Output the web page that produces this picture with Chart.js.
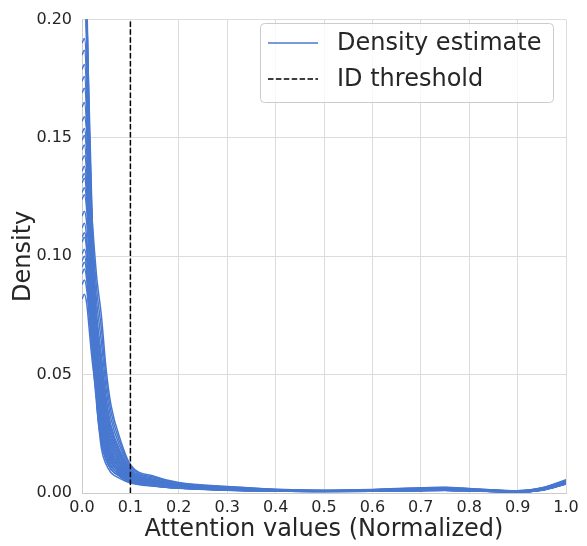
<!DOCTYPE html>
<html>
<head>
<meta charset="utf-8">
<title>Attention density</title>
<script src="https://cdn.jsdelivr.net/npm/chart.js@4/dist/chart.umd.min.js"></script>
<style>
    html, body { margin: 0; padding: 0; background: #ffffff; }
    #wrap { position: relative; width: 587px; height: 546px; }
</style>
</head>
<body>
<div id="wrap"><canvas id="densityChart"></canvas></div>
<script>
// =============================================
// Data
// =============================================

// x positions of the sampled density values
var attentionGrid = [0, 0.005, 0.01, 0.015, 0.02, 0.03, 0.04, 0.05, 0.06, 0.08, 0.1, 0.15, 0.2, 0.3, 0.4, 0.5, 0.6, 0.7, 0.75, 0.8, 0.9, 0.95, 1.0];

// one row per density estimate (same order as attentionGrid)
var densityCurves = [
    [0.082, 0.084, 0.0797, 0.0689, 0.058, 0.0407, 0.0218, 0.014, 0.010, 0.0068, 0.0046, 0.0030, 0.0021, 0.0013, 0.0008, 0.0006, 0.0007, 0.0011, 0.0012, 0.0010, 0.0005, 0.0013, 0.0039],
    [0.088, 0.090, 0.0856, 0.0746, 0.0637, 0.0461, 0.0274, 0.018, 0.0129, 0.0084, 0.0054, 0.0034, 0.0024, 0.0014, 0.0009, 0.0007, 0.0008, 0.0012, 0.0013, 0.0011, 0.0006, 0.0014, 0.0041],
    [0.0926, 0.0946, 0.0895, 0.0767, 0.0639, 0.0434, 0.0246, 0.016, 0.0114, 0.0076, 0.0050, 0.0032, 0.0022, 0.0013, 0.0009, 0.0007, 0.0008, 0.0011, 0.0012, 0.0010, 0.0005, 0.0013, 0.0040],
    [0.0955, 0.0975, 0.0929, 0.0814, 0.0699, 0.0515, 0.033, 0.022, 0.0157, 0.010, 0.0062, 0.0039, 0.0026, 0.0016, 0.0010, 0.0008, 0.0009, 0.0013, 0.0014, 0.0012, 0.0006, 0.0015, 0.0043],
    [0.098, 0.100, 0.0938, 0.0783, 0.0628, 0.038, 0.019, 0.012, 0.0086, 0.006, 0.0042, 0.0028, 0.002, 0.0012, 0.0008, 0.0006, 0.0007, 0.0010, 0.0011, 0.0009, 0.0005, 0.0012, 0.0038],
    [0.101, 0.103, 0.0981, 0.0859, 0.0737, 0.0542, 0.0358, 0.024, 0.0171, 0.0108, 0.0065, 0.0041, 0.0027, 0.0017, 0.0010, 0.0008, 0.0009, 0.0014, 0.0015, 0.0012, 0.0006, 0.0015, 0.0043],
    [0.106, 0.108, 0.1021, 0.0873, 0.0725, 0.0488, 0.0302, 0.020, 0.0143, 0.0092, 0.0058, 0.0036, 0.0025, 0.0015, 0.0010, 0.0007, 0.0009, 0.0012, 0.0014, 0.0011, 0.0006, 0.0014, 0.0042],
    [0.108, 0.110, 0.1050, 0.0923, 0.0798, 0.0596, 0.0414, 0.028, 0.020, 0.0124, 0.0073, 0.0045, 0.0030, 0.0018, 0.0011, 0.0008, 0.0010, 0.0015, 0.0016, 0.0013, 0.0007, 0.0016, 0.0045],
    [0.112, 0.114, 0.1069, 0.0893, 0.0716, 0.0434, 0.0246, 0.016, 0.0114, 0.0076, 0.0050, 0.0032, 0.0022, 0.0014, 0.0009, 0.0007, 0.0008, 0.0012, 0.0012, 0.0010, 0.0005, 0.0013, 0.0040],
    [0.117, 0.119, 0.1136, 0.1001, 0.0866, 0.065, 0.047, 0.032, 0.0228, 0.014, 0.0081, 0.0049, 0.0032, 0.0020, 0.0012, 0.0009, 0.0011, 0.0016, 0.0018, 0.0014, 0.0007, 0.0017, 0.0047],
    [0.124, 0.126, 0.1188, 0.1009, 0.0829, 0.0542, 0.0358, 0.024, 0.0171, 0.0108, 0.0065, 0.0041, 0.0027, 0.0017, 0.0011, 0.0008, 0.0010, 0.0014, 0.0015, 0.0012, 0.0006, 0.0015, 0.0044],
    [0.127, 0.129, 0.1231, 0.1085, 0.0938, 0.0704, 0.0526, 0.036, 0.0256, 0.0156, 0.0089, 0.0053, 0.0034, 0.0021, 0.0013, 0.0010, 0.0012, 0.0017, 0.0019, 0.0015, 0.0007, 0.0018, 0.0049],
    [0.131, 0.133, 0.1243, 0.1025, 0.0809, 0.0461, 0.0274, 0.018, 0.0129, 0.0084, 0.0054, 0.0034, 0.0024, 0.0014, 0.0009, 0.0007, 0.0008, 0.0012, 0.0013, 0.0011, 0.0006, 0.0014, 0.0040],
    [0.133, 0.135, 0.1291, 0.1143, 0.0995, 0.0758, 0.0582, 0.040, 0.0285, 0.0172, 0.0097, 0.0057, 0.0037, 0.0023, 0.0014, 0.0010, 0.0013, 0.0018, 0.0020, 0.0016, 0.0008, 0.0019, 0.0051],
    [0.136, 0.138, 0.1299, 0.1096, 0.0893, 0.0569, 0.0386, 0.026, 0.0185, 0.0116, 0.0069, 0.0043, 0.0028, 0.0017, 0.0011, 0.0008, 0.0010, 0.0014, 0.0016, 0.0013, 0.0006, 0.0016, 0.0044],
    [0.1405, 0.1425, 0.1363, 0.1211, 0.1057, 0.0812, 0.0638, 0.044, 0.0313, 0.0188, 0.0104, 0.0062, 0.0039, 0.0024, 0.0014, 0.0011, 0.0013, 0.0020, 0.0021, 0.0017, 0.0008, 0.0020, 0.0052],
    [0.145, 0.147, 0.1363, 0.1098, 0.0832, 0.0407, 0.0218, 0.014, 0.010, 0.0068, 0.0046, 0.0030, 0.0021, 0.0012, 0.0008, 0.0006, 0.0007, 0.0010, 0.0012, 0.0009, 0.0005, 0.0012, 0.0038],
    [0.149, 0.151, 0.1445, 0.1284, 0.1124, 0.0866, 0.0694, 0.048, 0.0342, 0.0204, 0.0112, 0.0066, 0.0042, 0.0026, 0.0015, 0.0011, 0.0014, 0.0021, 0.0023, 0.0018, 0.0009, 0.0021, 0.0054],
    [0.152, 0.154, 0.1448, 0.1219, 0.099, 0.0623, 0.0442, 0.030, 0.0214, 0.0132, 0.0077, 0.0047, 0.0031, 0.0019, 0.0012, 0.0009, 0.0011, 0.0015, 0.0017, 0.0014, 0.0007, 0.0017, 0.0046],
    [0.157, 0.159, 0.1523, 0.1355, 0.1188, 0.092, 0.075, 0.052, 0.037, 0.022, 0.012, 0.007, 0.0044, 0.0027, 0.0016, 0.0012, 0.0015, 0.0022, 0.0024, 0.0019, 0.0009, 0.0022, 0.0056],
    [0.163, 0.165, 0.1534, 0.1243, 0.0953, 0.0488, 0.0302, 0.020, 0.0143, 0.0092, 0.0058, 0.0036, 0.0025, 0.0015, 0.0010, 0.0007, 0.0009, 0.0013, 0.0014, 0.0011, 0.0006, 0.0014, 0.0042],
    [0.169, 0.171, 0.1606, 0.1349, 0.109, 0.0677, 0.0498, 0.034, 0.0242, 0.0148, 0.0085, 0.0051, 0.0033, 0.0020, 0.0012, 0.0009, 0.0011, 0.0017, 0.0018, 0.0015, 0.0007, 0.0018, 0.0048],
    [0.174, 0.176, 0.1627, 0.1296, 0.0964, 0.0434, 0.0246, 0.016, 0.0114, 0.0076, 0.0050, 0.0032, 0.0022, 0.0013, 0.0009, 0.0007, 0.0008, 0.0011, 0.0012, 0.0010, 0.0005, 0.0013, 0.0039],
    [0.179, 0.181, 0.1702, 0.1432, 0.1163, 0.0731, 0.0554, 0.038, 0.0271, 0.0164, 0.0093, 0.0055, 0.0036, 0.0022, 0.0013, 0.0010, 0.0012, 0.0018, 0.0019, 0.0016, 0.0008, 0.0019, 0.0050],
    [0.185, 0.187, 0.1734, 0.1396, 0.1057, 0.0515, 0.033, 0.022, 0.0157, 0.010, 0.0062, 0.0039, 0.0026, 0.0016, 0.0010, 0.0008, 0.0009, 0.0013, 0.0014, 0.0012, 0.0006, 0.0015, 0.0043],
    [0.190, 0.192, 0.1787, 0.1456, 0.1126, 0.0596, 0.0414, 0.028, 0.020, 0.0124, 0.0073, 0.0045, 0.0030, 0.0018, 0.0011, 0.0008, 0.0010, 0.0015, 0.0016, 0.0013, 0.0007, 0.0016, 0.0045],
    [0.203, 0.205, 0.1885, 0.1393, 0.1064, 0.0407, 0.0218, 0.014, 0.010, 0.0068, 0.0046, 0.0030, 0.0021, 0.0013, 0.0008, 0.0006, 0.0007, 0.0011, 0.0012, 0.0010, 0.0005, 0.0013, 0.0039],
    [0.218, 0.22, 0.1868, 0.1537, 0.1205, 0.0542, 0.0358, 0.024, 0.0171, 0.0108, 0.0065, 0.0041, 0.0027, 0.0017, 0.0010, 0.0008, 0.0009, 0.0014, 0.0015, 0.0012, 0.0006, 0.0015, 0.0043],
    [0.238, 0.24, 0.2012, 0.1624, 0.1237, 0.0461, 0.0274, 0.018, 0.0129, 0.0084, 0.0054, 0.0034, 0.0024, 0.0014, 0.0009, 0.0007, 0.0008, 0.0012, 0.0013, 0.0011, 0.0006, 0.0014, 0.0041],
    [0.266, 0.27, 0.205, 0.152, 0.112, 0.0434, 0.0246, 0.016, 0.0114, 0.0076, 0.0050, 0.0032, 0.0022, 0.0013, 0.0009, 0.0007, 0.0008, 0.0011, 0.0012, 0.0010, 0.0005, 0.0013, 0.0040],
    [0.305, 0.31, 0.21, 0.155, 0.115, 0.0488, 0.0302, 0.020, 0.0143, 0.0092, 0.0058, 0.0036, 0.0025, 0.0015, 0.0010, 0.0007, 0.0009, 0.0012, 0.0014, 0.0011, 0.0006, 0.0014, 0.0042]
];

// vertical ID threshold
var thresholdX = [0.1, 0.1];
var thresholdY = [0, 0.2];

var xTickValues = [0, 0.1, 0.2, 0.3, 0.4, 0.5, 0.6, 0.7, 0.8, 0.9, 1.0];
var xTickLabels = ["0.0", "0.1", "0.2", "0.3", "0.4", "0.5", "0.6", "0.7", "0.8", "0.9", "1.0"];
var yTickValues = [0, 0.05, 0.10, 0.15, 0.20];
var yTickLabels = ["0.00", "0.05", "0.10", "0.15", "0.20"];

var legendLabels = ["Density estimate", "ID threshold"];
var xTitle = "Attention values (Normalized)";
var yTitle = "Density";

// =============================================
// Style
// =============================================

var curveColor = "#4878d0";
var textColor = "#262626";
var gridColor = "#dcdcdc";
var fontFamily = "'DejaVu Sans', sans-serif";

// =============================================
// Build datasets
// =============================================

function toPoints(xs, ys) {
    var pts = [];
    for (var i = 0; i < xs.length; i++) {
        pts.push({ x: xs[i], y: ys[i] });
    }
    return pts;
}

var datasets = [];

datasets.push({
    label: legendLabels[1],
    data: toPoints(thresholdX, thresholdY),
    borderColor: "#000000",
    borderWidth: 1.5,
    borderDash: [5.5, 2.4],
    pointRadius: 0,
    order: -1,
    clip: 0
});

for (var c = 0; c < densityCurves.length; c++) {
    datasets.push({
        label: c === 0 ? legendLabels[0] : "",
        data: toPoints(attentionGrid, densityCurves[c]),
        borderColor: curveColor,
        borderWidth: 1.5,
        pointRadius: 0,
        cubicInterpolationMode: "monotone",
        clip: 0
    });
}

// =============================================
// Legend drawn inside the plot (like matplotlib)
// =============================================

var insideLegend = {
    id: "insideLegend",
    afterDraw: function(chart) {
        var ctx = chart.ctx;
        var bx = 260, by = 23, bw = 293, bh = 79;
        ctx.save();
        ctx.beginPath();
        ctx.roundRect(bx + 0.5, by + 0.5, bw, bh, 4);
        ctx.fillStyle = "rgba(255,255,255,0.8)";
        ctx.fill();
        ctx.strokeStyle = "#cccccc";
        ctx.lineWidth = 1;
        ctx.stroke();

        var rows = [43, 79];
        ctx.lineWidth = 1.5;

        ctx.beginPath();
        ctx.strokeStyle = curveColor;
        ctx.moveTo(268, rows[0]);
        ctx.lineTo(318, rows[0]);
        ctx.stroke();

        ctx.beginPath();
        ctx.strokeStyle = "#000000";
        ctx.setLineDash([5.5, 2.4]);
        ctx.moveTo(268, rows[1]);
        ctx.lineTo(318, rows[1]);
        ctx.stroke();
        ctx.setLineDash([]);

        ctx.fillStyle = textColor;
        ctx.font = "24px " + fontFamily;
        ctx.textAlign = "left";
        ctx.textBaseline = "middle";
        for (var i = 0; i < legendLabels.length; i++) {
            ctx.fillText(legendLabels[i], 337, rows[i] + 1);
        }
        ctx.restore();
    }
};

// =============================================
// Chart
// =============================================

new Chart(document.getElementById("densityChart"), {
    type: "line",
    data: { datasets: datasets },
    options: {
        responsive: true,
        maintainAspectRatio: false,
        animation: false,
        events: [],
        layout: { padding: { top: 12, right: 21, bottom: 0, left: 0 } },
        plugins: {
            legend: { display: false },
            tooltip: { enabled: false }
        },
        scales: {
            x: {
                type: "linear",
                min: 0,
                max: 1,
                afterBuildTicks: function(scale) {
                    scale.ticks = xTickValues.map(function(v) { return { value: v }; });
                },
                afterFit: function(scale) { scale.height = 53; },
                ticks: {
                    padding: 5,
                    color: textColor,
                    font: { family: fontFamily, size: 16 },
                    maxRotation: 0,
                    callback: function(v, i) { return xTickLabels[i]; }
                },
                grid: { color: gridColor, lineWidth: 1, drawTicks: false },
                border: { color: "#cccccc" },
                title: {
                    display: true,
                    text: xTitle,
                    color: textColor,
                    font: { family: fontFamily, size: 24 },
                    padding: { top: 0, bottom: 2 }
                }
            },
            y: {
                type: "linear",
                min: 0,
                max: 0.2,
                afterBuildTicks: function(scale) {
                    scale.ticks = yTickValues.map(function(v) { return { value: v }; });
                },
                afterFit: function(scale) { scale.width = 82; },
                ticks: {
                    padding: 10,
                    color: textColor,
                    font: { family: fontFamily, size: 16 },
                    callback: function(v, i) { return yTickLabels[i]; }
                },
                grid: { color: gridColor, lineWidth: 1, drawTicks: false },
                border: { color: "#cccccc" },
                title: {
                    display: true,
                    text: yTitle,
                    color: textColor,
                    font: { family: fontFamily, size: 24 },
                    padding: { top: 9, bottom: 0 }
                }
            }
        }
    },
    plugins: [insideLegend]
});
</script>
</body>
</html>
